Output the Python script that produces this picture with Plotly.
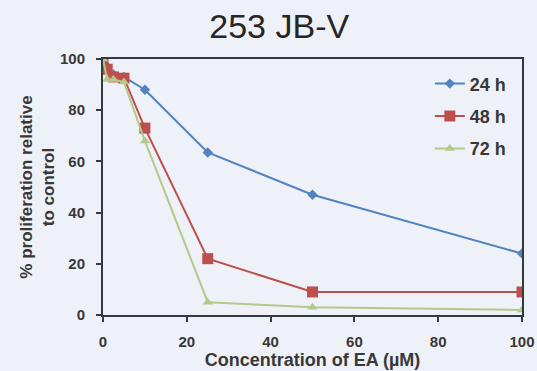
import plotly.graph_objects as go

# EA concentration (µM) and proliferation (% of control) per exposure time
conc = [0, 1, 2.5, 5, 10, 25, 50, 100]
prolif_24h = [100, 97, 94, 93, 88, 63.5, 47, 24]
prolif_48h = [100, 96, 93, 92.5, 73, 22, 9, 9]
prolif_72h = [100, 92, 92, 91, 68, 5, 3, 2]

series_names = ["24 h", "48 h", "72 h"]
series_colors = ["#5183bd", "#bd4f4c", "#b3c98a"]
series_symbols = ["diamond", "square", "triangle-up"]
series_sizes = [8, 11, 9]

x_ticks = [0, 20, 40, 60, 80, 100]
y_ticks = [0, 20, 40, 60, 80, 100]

font_family = "Liberation Sans, Arial, sans-serif"
text_color = "#383838"
axis_color = "#333a40"

fig = go.Figure()
for i, (name, ys, color, sym, size) in enumerate(zip(
    series_names, [prolif_24h, prolif_48h, prolif_72h],
    series_colors, series_symbols, series_sizes,
)):
    fig.add_trace(go.Scatter(
        x=conc, y=ys, name=name, mode="lines+markers", legendgroup=f"g{i}",
        line=dict(color=color, width=2),
        marker=dict(symbol=sym, size=size, color=color),
    ))

fig.update_layout(
    width=537, height=371,
    margin=dict(l=103, r=15, t=59, b=56),
    paper_bgcolor="#eef1f7",
    plot_bgcolor="#eef1f7",
    font=dict(family=font_family, color=text_color, size=16, weight="bold"),
    title=dict(text="253 JB-V", x=0.52, xanchor="center", y=0.93, yanchor="middle",
               font=dict(size=34, color="#262626", weight="normal")),
    showlegend=True,
    legend=dict(x=0.78, y=0.975, xanchor="left", yanchor="top",
                bgcolor="rgba(0,0,0,0)", font=dict(size=18, color=text_color),
                itemwidth=30, traceorder="grouped", tracegroupgap=6),
)

fig.update_xaxes(
    range=[0, 100], tickvals=x_ticks, showgrid=False, zeroline=False,
    showline=True, linecolor=axis_color, linewidth=2, mirror=True,
    ticks="outside", ticklen=5, tickcolor=axis_color, tickwidth=2,
    ticklabelstandoff=7, automargin=False,
    tickfont=dict(size=15),
    title=dict(text="Concentration of EA (µM)", standoff=4, font=dict(size=18)),
)
fig.update_yaxes(
    range=[0, 100], tickvals=y_ticks, showgrid=False, zeroline=False,
    showline=True, linecolor=axis_color, linewidth=2, mirror=True,
    ticks="outside", ticklen=5, tickcolor=axis_color, tickwidth=2,
    ticklabelstandoff=8, automargin=False,
    tickfont=dict(size=15),
    title=dict(text="% proliferation relative<br>to control", standoff=1,
               font=dict(size=17)),
)

fig.write_html("out.html")
